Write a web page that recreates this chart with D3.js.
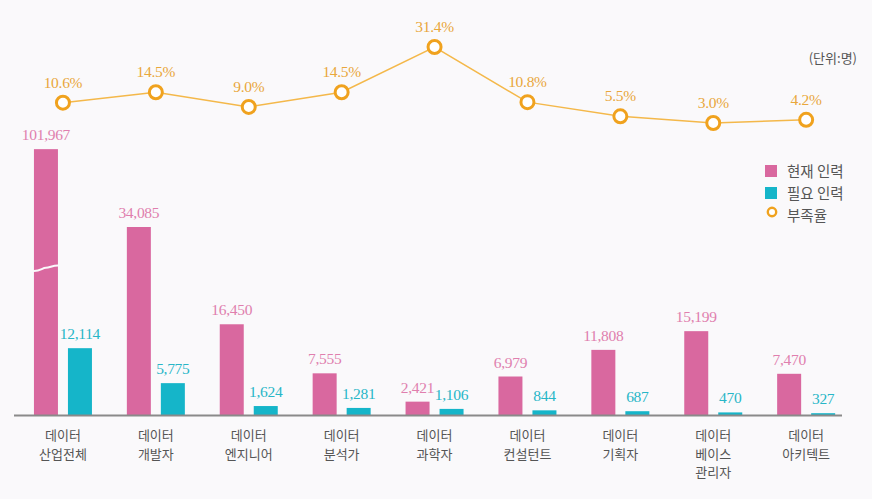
<!DOCTYPE html>
<html><head><meta charset="utf-8">
<script src="https://cdn.jsdelivr.net/npm/d3@7"></script>
<style>
html,body{margin:0;padding:0;background:#faf9fb;}
</style></head>
<body>
<svg id="c" width="872" height="499"></svg>
<script>
const categories = [["데이터","산업전체"],["데이터","개발자"],["데이터","엔지니어"],["데이터","분석가"],["데이터","과학자"],["데이터","컨설턴트"],["데이터","기획자"],["데이터","베이스","관리자"],["데이터","아키텍트"]];
const currentStaff = [101967, 34085, 16450, 7555, 2421, 6979, 11808, 15199, 7470];
const neededStaff = [12114, 5775, 1624, 1281, 1106, 844, 687, 470, 327];
const shortageRate = [10.6, 14.5, 9.0, 14.5, 31.4, 10.8, 5.5, 3.0, 4.2];
const legendLabels = ["현재 인력", "필요 인력", "부족율"];
const unitLabel = "(단위:명)";
const breakCap = 48200;

const svg = d3.select("#c");
const pink = "#d9689f", cyan = "#15b5c9", orange = "#f0a21e";
const pinkText = "#e07fae", cyanText = "#27b6c7", orangeText = "#e9a73c";
const numFont = "'Liberation Serif', 'DejaVu Serif', serif";
const krFont = "'Noto Sans CJK KR', sans-serif";

const x = d3.scaleBand().domain(d3.range(categories.length)).range([16.5, 852.6]);
const y = d3.scaleLinear().domain([0, 34085]).range([415, 227]);
const yr = d3.scaleLinear().domain([3.0, 31.4]).range([123, 47]);
const cx = i => x(i) + x.bandwidth()/2;
const bw = 24, gap = 5;

// bars
const g = svg.append("g");
g.selectAll(".p").data(currentStaff).join("rect")
  .attr("x",(d,i)=>cx(i)-gap-bw).attr("width",bw)
  .attr("y",d=>y(Math.min(d,breakCap))).attr("height",d=>415-y(Math.min(d,breakCap)))
  .attr("fill",pink);
g.selectAll(".n").data(neededStaff).join("rect")
  .attr("x",(d,i)=>cx(i)+gap).attr("width",bw)
  .attr("y",d=>y(d)).attr("height",d=>415-y(d))
  .attr("fill",cyan);

// break marker on capped bars
currentStaff.forEach((d,i)=>{
  if(d>breakCap){
    const x0 = cx(i)-gap-bw-2, x1 = cx(i)-gap+2, ym = y(breakCap*0.55);
    g.append("path")
      .attr("d",`M${x0},${ym+2} C${x0+8},${ym+3} ${x0+10},${ym-1} ${(x0+x1)/2},${ym-1} S${x1-6},${ym-4} ${x1},${ym-3}`)
      .attr("fill","none").attr("stroke","#faf9fb").attr("stroke-width",2);
  }
});

// value labels
const fmt = d3.format(",");
g.selectAll(".pl").data(currentStaff).join("text")
  .attr("x",(d,i)=>cx(i)-gap-bw/2).attr("y",d=>y(Math.min(d,breakCap))-9)
  .attr("text-anchor","middle").attr("font-family",numFont).attr("font-size",15.5)
  .attr("fill",pinkText).attr("letter-spacing","-0.3").text(d=>fmt(d));
g.selectAll(".nl").data(neededStaff).join("text")
  .attr("x",(d,i)=>cx(i)+gap+bw/2).attr("y",d=>y(d)-9)
  .attr("text-anchor","middle").attr("font-family",numFont).attr("font-size",15.5)
  .attr("fill",cyanText).attr("letter-spacing","-0.3").text(d=>fmt(d));

// axis line
svg.append("line").attr("x1",14).attr("x2",842).attr("y1",415.5).attr("y2",415.5)
  .attr("stroke","#8a8a8a").attr("stroke-width",2);

// x labels
categories.forEach((lines,i)=>{
  lines.forEach((l,k)=>svg.append("text").attr("text-anchor","middle").attr("font-family",krFont)
    .attr("font-size",13).attr("fill","#555").attr("x",cx(i)).attr("y",440+k*18.5).text(l));
});

// line
const line = d3.line().x((d,i)=>cx(i)).y(d=>yr(d));
svg.append("path").datum(shortageRate).attr("d",line).attr("fill","none")
  .attr("stroke","#f4b84a").attr("stroke-width",1.5);
svg.selectAll(".dot").data(shortageRate).join("circle")
  .attr("cx",(d,i)=>cx(i)).attr("cy",d=>yr(d)).attr("r",6.5)
  .attr("fill","#fff").attr("stroke",orange).attr("stroke-width",3);
svg.selectAll(".rl").data(shortageRate).join("text")
  .attr("x",(d,i)=>cx(i)).attr("y",d=>yr(d)-15)
  .attr("text-anchor","middle").attr("font-family",numFont).attr("font-size",15.5)
  .attr("fill",orangeText).attr("letter-spacing","-0.3").text(d=>d.toFixed(1)+"%");

// unit
svg.append("text").attr("x",857).attr("y",63).attr("text-anchor","end")
  .attr("font-family",krFont).attr("font-size",13).attr("fill","#555").text(unitLabel);

// legend
const lg = svg.append("g");
lg.append("rect").attr("x",765).attr("y",165).attr("width",12).attr("height",12).attr("fill",pink);
lg.append("rect").attr("x",765).attr("y",187).attr("width",12).attr("height",12).attr("fill",cyan);
lg.append("circle").attr("cx",772).attr("cy",212).attr("r",4.2).attr("fill","#fff").attr("stroke",orange).attr("stroke-width",2.4);
legendLabels.forEach((l,k)=>lg.append("text").attr("x",787).attr("y",176.5+k*22)
  .attr("font-family",krFont).attr("font-size",14.5).attr("fill","#555").text(l));
</script>
</body></html>
